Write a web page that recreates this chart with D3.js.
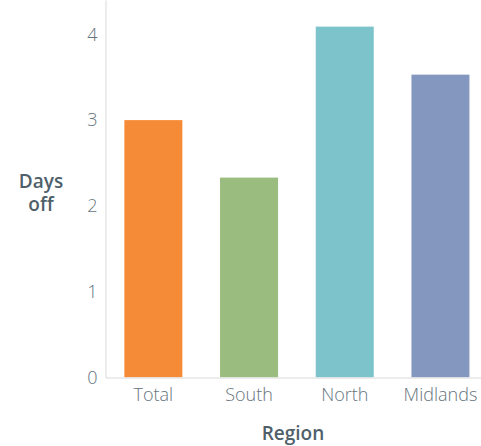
<!DOCTYPE html>
<html>
    <head>
        <meta charset="utf-8" />
        <title>Days off by region</title>
        <style>
            body { margin: 0; background: #fff; }
            text { font-family: "Open Sans", Lato, sans-serif; }
        </style>
    </head>
    <body>
    <script src="https://cdn.jsdelivr.net/npm/d3@7"></script>
    <script>
        var regions = ['Total', 'South', 'North', 'Midlands'];
        var daysOff = [3.0, 2.33, 4.09, 3.53];
        var barColors = ['#f68b37', '#9abd7f', '#7cc3cb', '#8497bf'];
        var yTicks = [0, 1, 2, 3, 4];

        var width = 481,
            height = 446;

        var svg = d3.select('body').append('svg')
                    .attr('width', width)
                    .attr('height', height);

        var x = d3.scaleBand()
            .domain(regions)
            .range([105.5, 488.3])
            .paddingInner(0.394)
            .paddingOuter(0.197);

        var y = d3.scaleLinear()
            .domain([0, 4.4])
            .range([377.5, 0]);

        // bars
        svg.selectAll('.bar')
            .data(regions)
        .enter().append('rect')
            .attr('class', 'bar')
            .attr('x', function(d) { return x(d); })
            .attr('width', x.bandwidth())
            .attr('y', function(d, i) { return y(daysOff[i]); })
            .attr('height', function(d, i) { return y(0) - y(daysOff[i]); })
            .attr('fill', function(d, i) { return barColors[i]; });

        // y axis
        var yAxis = svg.append('g')
            .attr('transform', 'translate(105.5,0)')
            .call(d3.axisLeft(y).tickValues(yTicks).tickFormat(d3.format('d')).tickSize(0).tickPadding(8));
        yAxis.select('.domain').attr('stroke', '#e6e6e6').attr('stroke-width', 1.5);
        yAxis.selectAll('text')
            .attr('fill', '#66747d')
            .style('font-size', '18px')
            .style('font-weight', '300');

        // x axis
        var xAxis = svg.append('g')
            .attr('transform', 'translate(0,377.5)')
            .call(d3.axisBottom(x).tickSize(0).tickPadding(11));
        xAxis.select('.domain').attr('stroke', '#e6e6e6').attr('stroke-width', 1.5);
        xAxis.selectAll('text')
            .attr('fill', '#66747d')
            .style('font-size', '18px')
            .style('font-weight', '300');

        // titles
        var yTitle = svg.append('text')
            .attr('x', 41)
            .attr('y', 187.5)
            .attr('text-anchor', 'middle')
            .attr('fill', '#4f606a')
            .style('font-size', '19px')
            .style('font-weight', '600');
        yTitle.append('tspan').attr('x', 41).text('Days');
        yTitle.append('tspan').attr('x', 41).attr('dy', 23.5).text('off');

        svg.append('text')
            .attr('x', 293)
            .attr('y', 440)
            .attr('text-anchor', 'middle')
            .attr('fill', '#4f606a')
            .style('font-size', '19px')
            .style('font-weight', '600')
            .text('Region');
    </script>
    </body>
</html>
